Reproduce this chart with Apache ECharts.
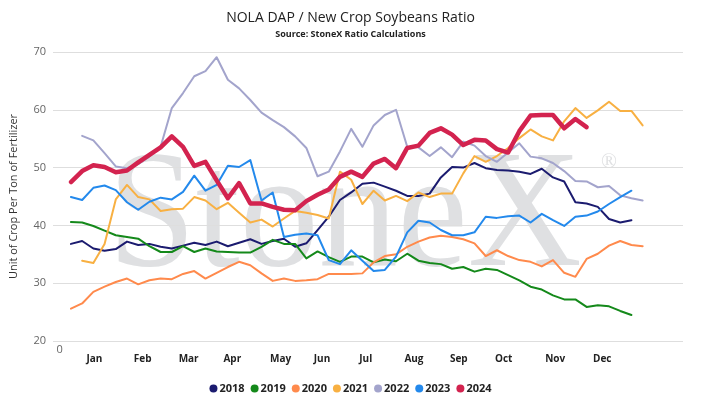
<!DOCTYPE html>
<html>
<head>
<meta charset="utf-8">
<title>NOLA DAP / New Crop Soybeans Ratio</title>
<script src="https://cdn.jsdelivr.net/npm/echarts/dist/echarts.min.js"></script>
<style>
    html, body {margin:0; padding:0; background:#fff;}
    #line {width:701px; height:407px;}
</style>
</head>
<body>
<div id="line"></div>
<script>
// weekly values, index 0 = week 1 (null = no point)
var years = ['2018','2019','2020','2021','2022','2023','2024'];
var colors = ['#1b1b6f','#14891a','#ff8a4c','#f8b042','#a3a4cc','#2389ec','#d3234f'];

var y2018 = [36.8,37.3,36.0,35.6,35.9,37.2,36.6,36.8,36.3,36.0,36.5,37.0,36.6,37.2,36.4,37.0,37.6,36.8,37.3,37.7,
    36.3,36.9,39.2,41.5,44.4,45.7,47.2,47.4,46.7,46.0,45.1,45.1,45.5,48.3,50.1,50.0,50.8,49.9,49.6,49.5,
    49.3,48.9,49.8,48.3,47.6,44.0,43.8,43.2,41.1,40.5,40.9];
var y2019 = [40.6,40.5,39.9,39.1,38.3,38.0,37.7,36.4,35.4,35.4,36.4,35.4,36.0,35.5,35.4,35.3,35.3,36.3,37.5,36.8,
    36.8,34.3,35.5,34.5,33.7,34.6,34.6,33.6,34.1,33.8,35.1,33.9,33.5,33.3,32.5,32.8,32.0,32.5,32.3,31.4,
    30.5,29.4,28.9,27.9,27.2,27.2,25.9,26.2,26.0,25.2,24.5];
var y2020 = [25.6,26.5,28.5,29.4,30.2,30.8,29.8,30.5,30.8,30.7,31.6,32.1,30.8,31.8,32.8,33.7,33.1,31.7,30.4,30.8,
    30.4,30.5,30.7,31.6,31.6,31.6,31.7,33.6,34.7,35.0,36.3,37.2,37.9,38.2,38.0,37.6,36.9,34.7,35.7,34.7,
    34.0,33.7,32.9,34.0,31.8,31.1,34.2,35.1,36.5,37.3,36.6,36.4];
var y2021 = [null,33.9,33.5,36.8,44.5,47.0,44.9,44.5,42.5,42.8,42.9,44.9,44.3,42.8,43.9,42.2,40.5,41.0,39.8,41.2,
    42.5,42.2,41.8,41.2,49.3,47.9,43.7,46.0,44.3,45.1,44.2,45.7,44.9,45.5,45.5,49.0,52.0,51.0,52.0,53.4,
    55.1,56.6,55.4,54.7,58.0,60.3,58.6,59.9,61.4,59.8,59.8,57.3];
var y2022 = [null,55.5,54.7,52.5,50.2,49.9,50.6,51.9,53.6,60.3,62.9,65.8,66.7,69.1,65.2,63.7,61.7,59.5,58.2,57.0,
    55.4,53.4,48.5,49.3,52.8,56.7,53.6,57.3,59.1,60.0,53.6,53.5,52.0,53.5,51.8,54.5,53.8,52.0,51.0,52.6,
    54.2,51.9,51.6,50.8,49.4,47.7,47.6,46.6,46.8,45.2,44.7,44.3];
var y2023 = [44.9,44.4,46.5,46.9,46.1,44.0,42.7,44.1,44.8,44.5,45.8,48.6,46.0,47.0,50.3,50.1,51.3,44.3,45.7,38.0,
    38.4,38.6,38.3,34.0,33.3,35.7,33.9,32.1,32.3,34.6,38.8,40.8,40.5,39.2,38.3,38.3,38.8,41.5,41.3,41.6,
    41.7,40.5,42.0,40.9,39.9,41.5,41.7,42.4,43.7,44.9,46.0];
var y2024 = [47.5,49.4,50.4,50.1,49.2,49.5,50.9,52.2,53.5,55.4,53.6,50.3,51.0,47.8,44.7,47.3,43.8,43.8,43.2,42.7,
    42.6,44.2,45.3,46.2,48.4,49.3,48.4,50.7,51.5,49.9,53.4,53.8,56.0,56.8,55.7,53.9,54.8,54.7,53.2,52.6,
    56.3,59.0,59.1,59.1,56.8,58.4,57.0];

// x axis is in tenths of a week; month labels sit at these positions
var monthNames = ['Jan','Feb','Mar','Apr','May','Jun','Jul','Aug','Sep','Oct','Nov','Dec'];
var monthPos = [31,74,115,154,197,234,273,316,356,396,442,484];

function init(){
    lineTable();
}

function toPairs(arr){
    var out = [];
    for(var i = 0;i<arr.length;i++){
        if(arr[i] == null) continue;
        out.push([(i + 1) * 10, arr[i]]);
    }
    return out;
}

function lineTable(){
    var myChart = echarts.init(document.getElementById('line'), null, {renderer: 'canvas'});
    var all = [y2018,y2019,y2020,y2021,y2022,y2023,y2024];
    var labelAt = {};
    for(var m = 0;m<monthNames.length;m++){
        labelAt[monthPos[m]] = monthNames[m];
    }

    var series = [];
    for(var i = 0;i<years.length;i++){
        var isLast = (i == years.length - 1);
        series.push({
            name: years[i],
            type: 'line',
            symbol: 'none',
            smooth: false,
            data: toPairs(all[i]),
            lineStyle: {
                color: colors[i],
                width: isLast ? 4.5 : 2,
                cap: 'round',
                join: 'round'
            },
            itemStyle: {color: colors[i]},
            z: 2 + i
        });
    }

    var option = {
        animation: false,
        backgroundColor: '#fff',
        color: colors,
        title: {
            left: 'center',
            top: 6,
            text: 'NOLA DAP / New Crop Soybeans Ratio',
            subtext: 'Source: StoneX Ratio Calculations',
            itemGap: 5,
            textStyle: {fontFamily: 'Open Sans', fontSize: 14, fontWeight: 'normal', color: '#222'},
            subtextStyle: {fontFamily: 'Open Sans', fontSize: 9, fontWeight: 'bold', color: '#222'}
        },
        // StoneX watermark behind the lines
        graphic: [
            {
                type: 'text', x: 108, y: 137, z: -10, silent: true, scaleX: 0.94,
                style: {text: 'StoneX', font: '168px "Liberation Serif"', fill: '#dfe0e2', verticalAlign: 'top'}
            },
            {
                type: 'text', x: 601, y: 152, z: -10, silent: true,
                style: {text: '\u00ae', font: '21px "Liberation Serif"', fill: '#dfe0e2', verticalAlign: 'top'}
            }
        ],
        legend: {
            bottom: 8,
            left: 'center',
            icon: 'circle',
            itemWidth: 8,
            itemHeight: 8,
            itemGap: 6,
            data: years,
            textStyle: {fontFamily: 'Open Sans', fontSize: 11, fontWeight: 'bold', color: '#222', padding: [0,0,0,-3]}
        },
        grid: {left: 48, right: 18, top: 52, bottom: 66},
        xAxis: {
            type: 'value',
            min: -6,
            max: 556,
            interval: 1,
            axisLine: {show: false},
            axisTick: {show: false},
            splitLine: {show: false},
            axisLabel: {
                margin: 3,
                formatter: function(v){
                    var k = Math.round(v);
                    if(k == 0) return '{z|0}';
                    if(labelAt[k]) return '{m|' + labelAt[k] + '}';
                    return '';
                },
                rich: {
                    z: {fontFamily: 'Open Sans', fontSize: 11, color: '#666'},
                    m: {fontFamily: 'Open Sans', fontSize: 10, fontWeight: 'bold', color: '#222', padding: [10,0,0,0]}
                }
            }
        },
        yAxis: {
            type: 'value',
            min: 20,
            max: 70,
            interval: 10,
            name: 'Unit of Crop Per Ton of Fertilizer',
            nameLocation: 'middle',
            nameGap: 34,
            nameTextStyle: {fontFamily: 'Open Sans', fontSize: 11, color: '#333'},
            axisLine: {show: false},
            axisTick: {show: false},
            axisLabel: {margin: 7, fontFamily: 'Open Sans', fontSize: 11, color: '#666'},
            splitLine: {lineStyle: {color: '#dedede', width: 1}}
        },
        series: series
    };
    myChart.setOption(option);
}

init();
</script>
</body>
</html>
